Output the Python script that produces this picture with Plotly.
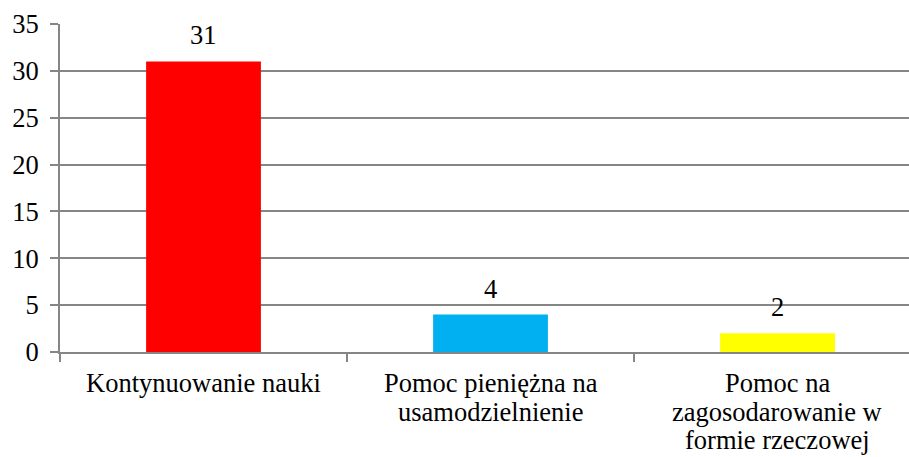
import plotly.graph_objects as go

categories = [["Kontynuowanie nauki"],
              ["Pomoc pieniężna na", "usamodzielnienie"],
              ["Pomoc na", "zagosodarowanie w", "formie rzeczowej"]]
values = [31, 4, 2]
colors = ["#FF0000", "#00B0F0", "#FFFF00"]
y_ticks = [0, 5, 10, 15, 20, 25, 30, 35]

font = "Liberation Serif"
fs = 26.5

xs = list(range(len(categories)))
boundaries = [x - 0.5 for x in xs] + [xs[-1] + 0.5]
fig = go.Figure(go.Bar(
    x=xs, y=values, marker_color=colors, marker_line_width=0, width=0.4,
    hoverinfo="skip",
))
for x, v in zip(xs, values):
    fig.add_annotation(x=x, y=v, text=str(v), showarrow=False, yanchor="bottom",
                       yshift=9, font=dict(family=font, size=fs, color="black"))
for x, lines in zip(xs, categories):
    for i, line in enumerate(lines):
        fig.add_annotation(x=x, y=0, text=line, showarrow=False, yanchor="middle",
                           yshift=-(31 + 28.5 * i), font=dict(family=font, size=fs, color="black"))
fig.update_layout(
    width=909, height=457, margin=dict(l=60, r=0, t=24, b=105),
    plot_bgcolor="white", paper_bgcolor="white", showlegend=False,
    font=dict(family=font, size=fs, color="black"),
    xaxis=dict(range=[-0.5, 2.458], tickmode="array", tickvals=boundaries,
               showticklabels=False, ticks="outside", ticklen=8,
               tickwidth=2, tickcolor="#868686", showgrid=False, showline=True,
               linecolor="#868686", linewidth=2, automargin=False),
    yaxis=dict(range=[0, 35], tickvals=y_ticks, ticks="outside", ticklen=8, tickwidth=2,
               tickcolor="#868686", showgrid=True, gridcolor="#868686", gridwidth=2,
               showline=True, linecolor="#868686", linewidth=2, zeroline=False,
               automargin=False, ticklabelstandoff=6,
               tickfont=dict(family=font, size=fs, color="black")),
)
fig.write_html("out.html", config={"displayModeBar": False},
               post_script="document.body.style.margin='0';document.body.style.overflow='hidden';")
